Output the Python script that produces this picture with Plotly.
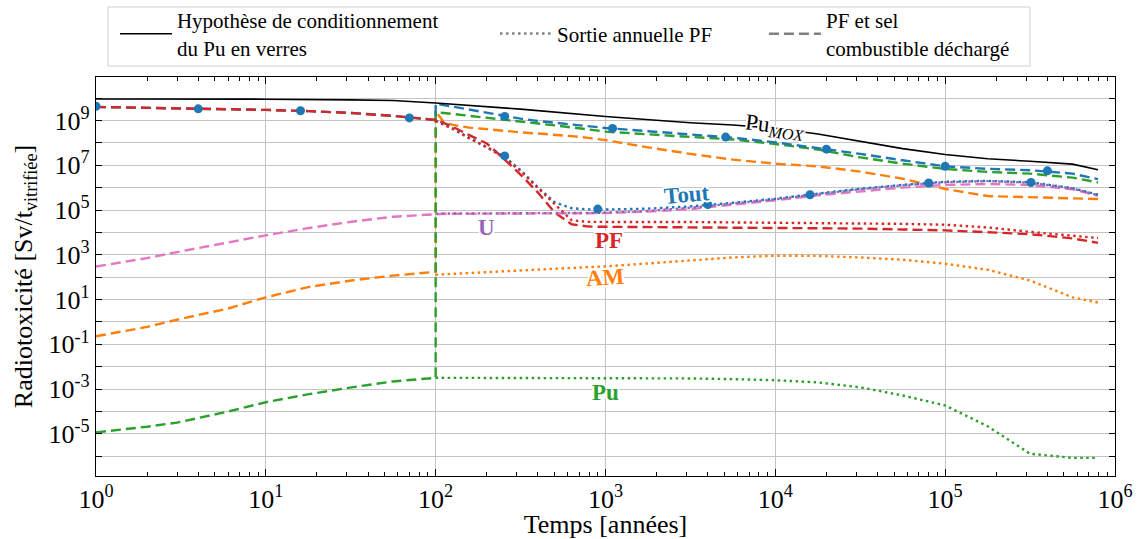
import plotly.graph_objects as go

# --- temps (années) ---
t_avant = [1, 2, 3, 6, 10, 18, 32, 56, 100]
t_apres = [100, 112, 126, 158, 200, 251, 316, 398, 501, 631, 794, 1000, 1780, 3160, 5620,
           1.0e4, 1.78e4, 3.16e4, 5.62e4, 1.0e5, 1.78e5, 3.16e5, 5.62e5, 7.94e5]
t_mox = [1, 3.16, 10, 31.6, 56.2, 100, 316, 1000, 1780, 3160, 5620,
         1.0e4, 1.78e4, 3.16e4, 5.62e4, 1.0e5, 1.78e5, 3.16e5, 5.62e5, 7.94e5]

# --- Pu MOX (hypothèse verres) ---
pu_mox = [9.1e9, 9.1e9, 8.9e9, 8.3e9, 7.8e9, 6.0e9, 3.2e9, 1.5e9, 1.05e9, 7.9e8, 6.3e8,
          4.5e8, 2.5e8, 1.15e8, 5.5e7, 3.0e7, 1.95e7, 1.5e7, 1.12e7, 6.3e6]

# --- PF et sel combustible déchargé (tirets), avant 100 ans ---
tout_avant = [4.0e9, 3.7e9, 3.55e9, 3.15e9, 2.95e9, 2.6e9, 2.15e9, 1.6e9, 1.05e9]
pf_avant = [4.0e9, 3.7e9, 3.55e9, 3.15e9, 2.95e9, 2.6e9, 2.15e9, 1.6e9, 1.05e9]
am_avant = [0.23, 0.6, 1.26, 4.0, 12.6, 37, 71, 117, 174]
pu_avant = [1.17e-5, 2.1e-5, 3.2e-5, 1.0e-4, 2.6e-4, 6.0e-4, 1.2e-3, 2.2e-3, 3.2e-3]
u_avant = [300, 710, 1320, 3550, 7400, 1.58e4, 3.0e4, 5.0e4, 6.8e4]

# --- PF et sel combustible déchargé (tirets), après 100 ans ---
tout_sel = [5.6e9, 4.8e9, 4.1e9, 2.9e9, 2.1e9, 1.55e9, 1.2e9, 9.5e8, 7.8e8, 6.5e8, 5.4e8, 4.6e8,
            3.3e8, 2.4e8, 1.7e8, 1.05e8, 5.9e7, 3.2e7, 1.66e7, 8.9e6, 6.9e6, 6.0e6, 4.2e6, 2.4e6]
pu_sel = [2.3e9, 2.15e9, 1.95e9, 1.6e9, 1.32e9, 1.15e9, 9.3e8, 7.6e8, 6.0e8, 4.9e8, 3.9e8, 3.16e8,
          2.4e8, 1.9e8, 1.41e8, 8.9e7, 5.0e7, 2.24e7, 1.17e7, 6.8e6, 5.0e6, 4.2e6, 2.8e6, 1.7e6]
am_sel = [2.5e9, 8.3e8, 6.3e8, 4.8e8, 4.0e8, 3.4e8, 2.95e8, 2.6e8, 2.3e8, 2.0e8, 1.66e8, 1.32e8,
          6.3e7, 3.2e7, 1.78e7, 1.17e7, 8.9e6, 5.2e6, 2.5e6, 8.7e5, 4.2e5, 3.8e5, 3.5e5, 3.1e5]
pf_sel = [1.05e9, 7.6e8, 5.2e8, 2.2e8, 9.3e7, 2.0e7, 3.8e6, 6.3e5, 7.9e4, 2.3e4, 1.82e4, 1.78e4,
          1.74e4, 1.74e4, 1.7e4, 1.66e4, 1.58e4, 1.48e4, 1.35e4, 1.23e4, 1.02e4, 8.3e3, 5.4e3, 3.4e3]
u_sel = [6.8e4, 6.8e4, 6.8e4, 6.8e4, 6.8e4, 6.8e4, 6.9e4, 6.9e4, 7.1e4, 7.1e4, 7.2e4, 7.4e4,
         8.5e4, 1.1e5, 1.66e5, 2.7e5, 4.5e5, 6.9e5, 1.0e6, 1.32e6, 1.45e6, 1.32e6, 8.5e5, 4.4e5]

# --- Sortie annuelle PF (pointillés) ---
tout_sortie = [1.0e9, 6.6e8, 4.4e8, 1.66e8, 6.6e7, 2.6e7, 6.0e6, 1.07e6, 2.24e5, 1.2e5, 1.07e5, 1.05e5,
               1.15e5, 1.45e5, 2.1e5, 3.2e5, 5.4e5, 8.9e5, 1.32e6, 1.82e6, 2.0e6, 1.74e6, 9.5e5, 4.8e5]
pf_sortie = [9.5e8, 6.3e8, 4.2e8, 1.58e8, 6.3e7, 2.24e7, 5.6e6, 1.0e6, 1.78e5, 3.5e4, 2.95e4, 2.9e4,
             2.9e4, 2.9e4, 2.8e4, 2.8e4, 2.7e4, 2.6e4, 2.4e4, 2.2e4, 1.66e4, 1.05e4, 7.1e3, 5.6e3]
am_sortie = [129, 135, 141, 155, 166, 182, 200, 219, 240, 263, 282, 302,
             417, 562, 759, 912, 891, 759, 603, 398, 214, 71, 12.6, 7.4]
pu_sortie = [3.2e-3, 3.2e-3, 3.2e-3, 3.2e-3, 3.2e-3, 3.2e-3, 3.2e-3, 3.2e-3, 3.2e-3, 3.2e-3, 3.2e-3, 3.2e-3,
             3.2e-3, 3.0e-3, 2.8e-3, 2.5e-3, 2.0e-3, 1.2e-3, 5.2e-4, 1.86e-4, 2.2e-5, 1.3e-6, 8.5e-7, 8.5e-7]
u_sortie = [6.9e4, 6.9e4, 6.9e4, 6.9e4, 6.9e4, 6.9e4, 6.9e4, 7.0e4, 7.1e4, 7.2e4, 7.4e4, 7.6e4,
            9.1e4, 1.26e5, 1.9e5, 3.0e5, 5.1e5, 8.5e5, 1.26e6, 1.74e6, 1.95e6, 1.66e6, 9.1e5, 4.6e5]

# --- marqueurs "Tout" ---
t_marq_sel = [1, 4, 16, 70, 255, 1100, 5100, 2.0e4, 1.0e5, 4.0e5]
marq_sel = [4.3e9, 3.3e9, 2.7e9, 1.3e9, 1.5e9, 4.4e8, 1.8e8, 5.2e7, 8.9e6, 5.6e6]
t_marq_sortie = [255, 900, 4000, 1.6e4, 8.0e4, 3.2e5]
marq_sortie = [2.6e7, 1.1e5, 1.74e5, 4.8e5, 1.6e6, 1.7e6]

x_ticks = [1, 10, 100, 1e3, 1e4, 1e5, 1e6]
x_ticktext = ["10<sup>%d</sup>" % k for k in range(7)]
y_ticks = [10.0 ** k for k in range(-6, 11)]
y_ticktext = ["10<sup>%d</sup>" % k if k % 2 else "" for k in range(-6, 11)]

BLEU, ORANGE, VERT, ROUGE, VIOLET, ROSE = "#1f77b4", "#ff7f0e", "#2ca02c", "#d62728", "#9467bd", "#e377c2"
TIRET = "10px,5px"
POINT = "2.5px,3.5px"
LW = 2.4
FONT = "Liberation Serif, Times New Roman, serif"

fig = go.Figure()

# tirets : PF et sel combustible déchargé
for t_a, y_a, y_s, c in [(t_avant, am_avant, am_sel, ORANGE),
                         (t_avant, pu_avant, pu_sel, VERT),
                         (t_avant, tout_avant, tout_sel, BLEU),
                         (t_avant, pf_avant, pf_sel, ROUGE),
                         (t_avant, u_avant, u_sel, ROSE)]:
    fig.add_trace(go.Scatter(x=t_a + t_apres, y=y_a + y_s, mode="lines",
                             line=dict(color=c, width=LW, dash=TIRET), showlegend=False))

# pointillés : sortie annuelle PF
for y_s, c in [(tout_sortie, BLEU), (pf_sortie, ROUGE), (am_sortie, ORANGE),
               (pu_sortie, VERT), (u_sortie, VIOLET)]:
    fig.add_trace(go.Scatter(x=t_apres, y=y_s, mode="lines",
                             line=dict(color=c, width=LW, dash=POINT), showlegend=False))

fig.add_trace(go.Scatter(x=t_marq_sel + t_marq_sortie, y=marq_sel + marq_sortie, mode="markers",
                         marker=dict(color=BLEU, size=9), showlegend=False))

fig.add_trace(go.Scatter(x=t_mox, y=pu_mox, mode="lines", line=dict(color="black", width=1.6),
                         name="Hypothèse de conditionnement<br>du Pu en verres", legend="legend"))
fig.add_trace(go.Scatter(x=[None], y=[None], mode="lines",
                         line=dict(color="gray", width=LW, dash=POINT),
                         name="Sortie annuelle PF", legend="legend2"))
fig.add_trace(go.Scatter(x=[None], y=[None], mode="lines",
                         line=dict(color="gray", width=LW, dash=TIRET),
                         name="PF et sel<br>combustible déchargé", legend="legend3"))

contour = ("-1.5px -1.5px 0 #fff, 1.5px -1.5px 0 #fff, -1.5px 1.5px 0 #fff, 1.5px 1.5px 0 #fff, "
           "0 2px 0 #fff, 0 -2px 0 #fff, 2px 0 0 #fff, -2px 0 0 #fff")
etiquettes = [("Pu<sub><i>MOX</i></sub>", 4.0, 8.72, "black", 7, "normal"),
              ("Tout", 3.48, 5.68, BLEU, -5, "bold"),
              ("U", 2.3, 4.2, VIOLET, 0, "bold"),
              ("PF", 3.02, 3.62, ROUGE, 0, "bold"),
              ("AM", 3.0, 1.97, ORANGE, -4, "bold"),
              ("Pu", 3.0, -3.16, VERT, 0, "bold")]
for txt, lx, ly, c, ang, w in etiquettes:
    fig.add_annotation(x=lx, y=ly, text=txt, showarrow=False, textangle=ang,
                       font=dict(family=FONT, size=23, color=c, weight=w, shadow=contour))

leg = dict(orientation="h", yanchor="middle", y=1.108, xanchor="left", bgcolor="rgba(0,0,0,0)",
           font=dict(family=FONT, size=21, color="black"), borderwidth=0, itemwidth=52)
fig.update_layout(
    width=1137, height=539,
    margin=dict(l=96, r=22, t=77, b=63, autoexpand=False),
    paper_bgcolor="white", plot_bgcolor="white",
    font=dict(family=FONT, color="black"),
    legend=dict(leg, x=0.0186),
    legend2=dict(leg, x=0.3916),
    legend3=dict(leg, x=0.6555),
    shapes=[dict(type="rect", xref="paper", yref="paper", x0=0.0118, x1=0.9166, y0=1.0276, y1=1.1754,
                 line=dict(color="#d0d0d0", width=1), fillcolor="white", layer="below")],
    xaxis=dict(type="log", range=[0, 6], tickvals=x_ticks, ticktext=x_ticktext,
               ticks="inside", ticklen=7, tickwidth=1, tickcolor="black",
               showline=True, linecolor="black", linewidth=1.2, mirror="ticks",
               showgrid=True, gridcolor="#c4c4c4", gridwidth=1, zeroline=False,
               minor=dict(tickvals=[m * 10 ** k for k in range(6) for m in range(2, 10)],
                          ticks="inside", ticklen=4, tickcolor="black", showgrid=False),
               tickfont=dict(family=FONT, size=26),
               title=dict(text="Temps [années]", font=dict(family=FONT, size=26), standoff=1)),
    yaxis=dict(type="log", range=[-6.88, 10.94], tickvals=y_ticks, ticktext=y_ticktext,
               ticks="inside", ticklen=6, tickwidth=1, tickcolor="black",
               showline=True, linecolor="black", linewidth=1.2, mirror="ticks",
               showgrid=True, gridcolor="#c4c4c4", gridwidth=1, zeroline=False,
               tickfont=dict(family=FONT, size=26),
               title=dict(text="Radiotoxicité [Sv/t<sub>vitrifiée</sub>]",
                          font=dict(family=FONT, size=26), standoff=8)),
)

fig.write_html("out.html", config={"displayModeBar": False},
               post_script="document.body.style.margin = '0px';")
